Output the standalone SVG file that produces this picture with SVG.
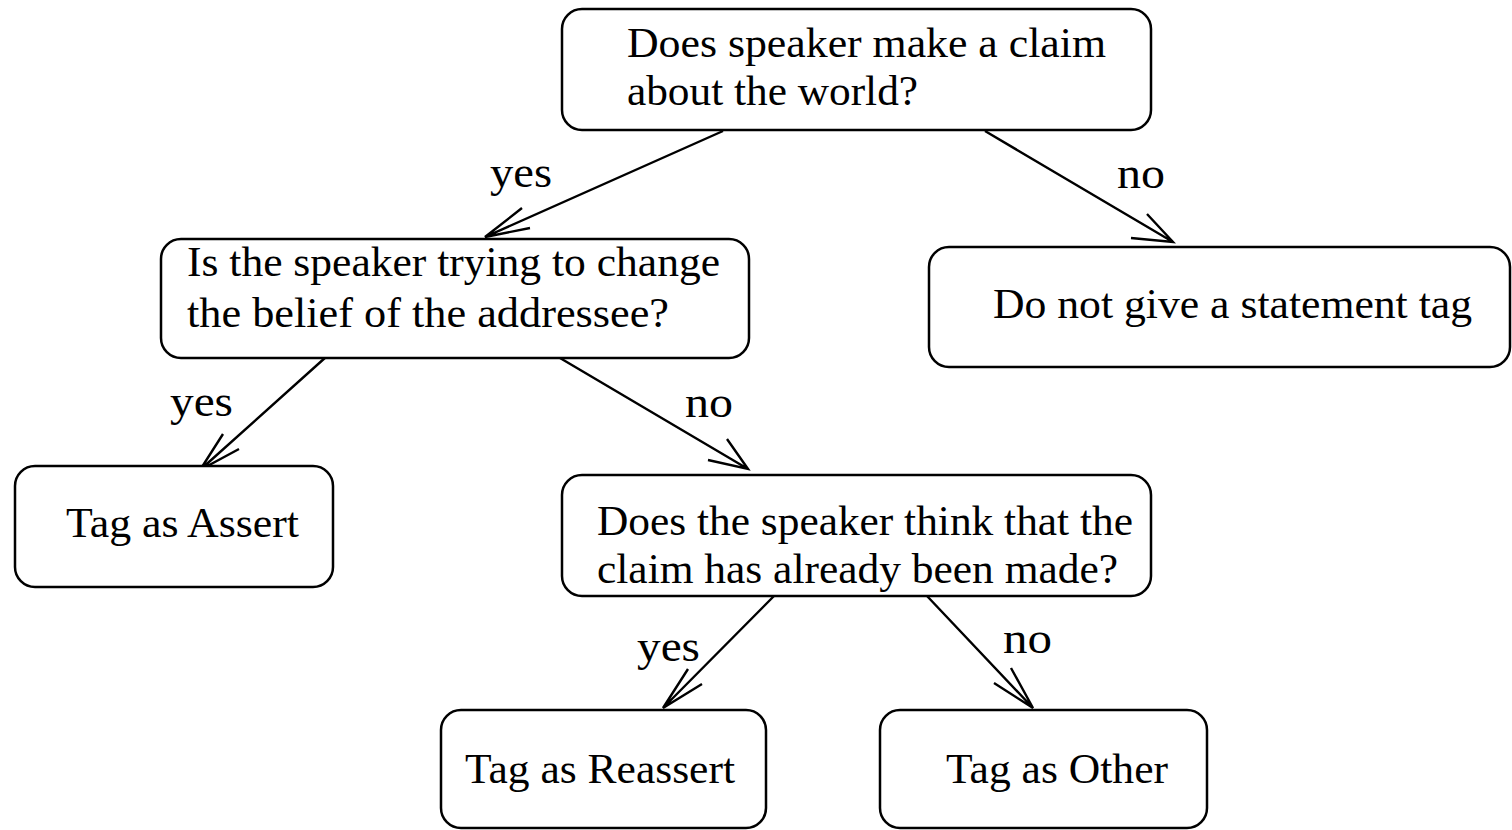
<svg xmlns="http://www.w3.org/2000/svg" width="1512" height="830" viewBox="0 0 1512 830">
<style>
.box{fill:#fff;stroke:#000;stroke-width:2.5}
.t{font-family:"Liberation Serif","Times New Roman",serif;font-size:42px;fill:#000}
.l{font-family:"Liberation Serif","Times New Roman",serif;font-size:45px;fill:#000}
.c{fill:none;stroke:#000;stroke-width:2.4}
</style>
<rect width="1512" height="830" fill="#fff"/>
<g id="connectors">
<path class="c" d="M723,131 L485,237 M522,208 L485,237 L530,228"/>
<path class="c" d="M985,131 L1173,242 M1147,214 L1173,242 L1131,238"/>
<path class="c" d="M326,357 L200,470 M223,434 L200,470 L239,449"/>
<path class="c" d="M560,358 L748,469 M727,439 L748,469 L708,460"/>
<path class="c" d="M774,596 L663,708 M688,669 L663,708 L702,684"/>
<path class="c" d="M927,596 L1033,708 M1011,668 L1033,708 L994,683"/>
<text class="l" x="490" y="187" textLength="62" lengthAdjust="spacingAndGlyphs">yes</text>
<text class="l" x="1117" y="188" textLength="48" lengthAdjust="spacingAndGlyphs">no</text>
<text class="l" x="170" y="416" textLength="63" lengthAdjust="spacingAndGlyphs">yes</text>
<text class="l" x="685" y="417" textLength="48" lengthAdjust="spacingAndGlyphs">no</text>
<text class="l" x="637" y="661" textLength="63" lengthAdjust="spacingAndGlyphs">yes</text>
<text class="l" x="1003" y="653" textLength="49" lengthAdjust="spacingAndGlyphs">no</text>
</g>
<g id="n1">
<rect class="box" x="562" y="9" width="589" height="121" rx="20"/>
<text class="t" x="627" y="57" textLength="479" lengthAdjust="spacingAndGlyphs">Does speaker make a claim</text>
<text class="t" x="627" y="105" textLength="291" lengthAdjust="spacingAndGlyphs">about the world?</text>
</g>
<g id="n2">
<rect class="box" x="161" y="239" width="588" height="119" rx="20"/>
<text class="t" x="187" y="276" textLength="533" lengthAdjust="spacingAndGlyphs">Is the speaker trying to change</text>
<text class="t" x="187" y="327" textLength="482" lengthAdjust="spacingAndGlyphs">the belief of the addressee?</text>
</g>
<g id="n3">
<rect class="box" x="929" y="247" width="581" height="120" rx="20"/>
<text class="t" x="993" y="318" textLength="479" lengthAdjust="spacingAndGlyphs">Do not give a statement tag</text>
</g>
<g id="n4">
<rect class="box" x="15" y="466" width="318" height="121" rx="20"/>
<text class="t" x="66" y="537" textLength="233" lengthAdjust="spacingAndGlyphs">Tag as Assert</text>
</g>
<g id="n5">
<rect class="box" x="562" y="475" width="589" height="121" rx="20"/>
<text class="t" x="597" y="535" textLength="536" lengthAdjust="spacingAndGlyphs">Does the speaker think that the</text>
<text class="t" x="597" y="583" textLength="521" lengthAdjust="spacingAndGlyphs">claim has already been made?</text>
</g>
<g id="n6">
<rect class="box" x="441" y="710" width="325" height="118" rx="20"/>
<text class="t" x="465" y="783" textLength="270" lengthAdjust="spacingAndGlyphs">Tag as Reassert</text>
</g>
<g id="n7">
<rect class="box" x="880" y="710" width="327" height="118" rx="20"/>
<text class="t" x="946" y="783" textLength="222" lengthAdjust="spacingAndGlyphs">Tag as Other</text>
</g>
</svg>
